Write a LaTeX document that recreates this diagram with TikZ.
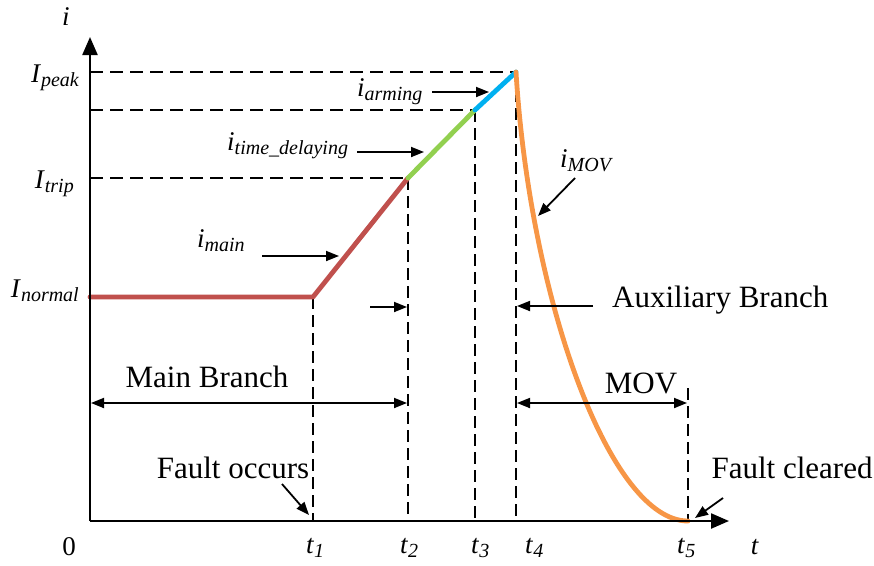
\documentclass[tikz,border=0pt]{standalone}
\usepackage{fontspec}
\setmainfont{Liberation Serif}
\usetikzlibrary{arrows.meta}

\definecolor{mainred}{RGB}{192,80,77}
\definecolor{delaygreen}{RGB}{146,208,80}
\definecolor{armblue}{RGB}{0,176,240}
\definecolor{movorange}{RGB}{247,150,70}

% italic symbol with a lowered italic subscript
\newcommand{\symsub}[2]{\textit{#1}\raisebox{-4.5pt}{\fontsize{20}{20}\selectfont\itshape #2}}

\tikzset{
  axisline/.style={line width=2.3pt, -{Triangle[length=18pt,width=15pt]}},
  guide/.style={line width=2pt, dash pattern=on 13pt off 7pt},
  vguide/.style={line width=1.8pt, dash pattern=on 12pt off 6pt},
  ann/.style={line width=1.8pt, -{Triangle[length=13pt,width=10pt]}},
  dimline/.style={line width=1.8pt, {Triangle[length=13pt,width=10pt]}-{Triangle[length=13pt,width=10pt]}},
  curve/.style={line width=4.8pt, line cap=round},
  symlbl/.style={font=\fontsize{27}{29}\selectfont, inner sep=0pt},
  txtlbl/.style={font=\fontsize{31}{33}\selectfont, inner sep=0pt}
}

\begin{document}
\begin{tikzpicture}[x=1pt,y=-1pt]
\useasboundingbox (0,0) rectangle (874,565);

% key points of the current trace
\coordinate (O)  at (90,521);
\coordinate (Ytip) at (90,37);
\coordinate (Xtip) at (729,521);
\coordinate (P0) at (90,297);
\coordinate (P1) at (313,297);
\coordinate (P2) at (408,178);
\coordinate (P3) at (475,110);
\coordinate (P4) at (516,72);
\coordinate (P5) at (688,521);
\coordinate (A2) at (90,178);
\coordinate (A3) at (90,110);
\coordinate (A4) at (90,72);
\coordinate (F1) at (313,521);
\coordinate (F2) at (408,521);
\coordinate (F3) at (475,521);
\coordinate (F4) at (516,521);
\coordinate (T5) at (688,388);

% guide lines
\draw[guide] (A4) -- (P4);
\draw[guide] (A3) -- (P3);
\draw[guide] (A2) -- (P2);
\draw[vguide] (P1) -- (F1);
\draw[vguide] (P2) -- (F2);
\draw[vguide] (P3) -- (F3);
\draw[vguide] (P4) -- (F4);
\draw[vguide] (T5) -- (P5);

% current trace
\draw[curve, mainred, line join=round] (P0) -- (P1) -- (P2);
\draw[curve, delaygreen] (P2) -- (P3);
\draw[curve, armblue] (P3) -- (P4);
\draw[curve, movorange] (P4) .. controls (530,300) and (610,521) .. (P5);

% axes
\draw[axisline] (O) -- (Ytip);
\draw[axisline] (O) -- (Xtip);

% axis labels
\node[symlbl, anchor=base] (ilbl) at (66,25) {\textit{i}};
\node[symlbl, anchor=base] (tlbl) at (755,554) {\textit{t}};
\node[symlbl, anchor=base] (zero) at (69,555) {0};
\node[symlbl, anchor=base west] (t1) at (306,553) {\symsub{t}{1}};
\node[symlbl, anchor=base west] (t2) at (400,553) {\symsub{t}{2}};
\node[symlbl, anchor=base west] (t3) at (471,553) {\symsub{t}{3}};
\node[symlbl, anchor=base west] (t4) at (525,553) {\symsub{t}{4}};
\node[symlbl, anchor=base west] (t5) at (677,553) {\symsub{t}{5}};

\node[symlbl, anchor=base east] (Ipeak) at (79,82) {\symsub{I}{peak}};
\node[symlbl, anchor=base east] (Itrip) at (74,188) {\symsub{I}{trip}};
\node[symlbl, anchor=base east] (Inormal) at (79,297) {\symsub{I}{normal}};

% branch current labels
\node[symlbl, anchor=base west] (iarm) at (357,96) {\symsub{i}{arming}};
\node[symlbl, anchor=base west] (idel) at (227,150) {\symsub{i}{time\_delaying}};
\node[symlbl, anchor=base west] (imain) at (197,247) {\symsub{i}{main}};
\node[symlbl, anchor=base west] (imov) at (560,167) {\symsub{i}{MOV}};

\coordinate (armS) at (432,92);  \coordinate (armE) at (489,92);
\coordinate (delS) at (357,152); \coordinate (delE) at (424,152);
\coordinate (mainS) at (262,256); \coordinate (mainE) at (339,256);
\coordinate (movS) at (575,178); \coordinate (movE) at (538,216);
\coordinate (trS) at (370,307);  \coordinate (trE) at (407,307);
\draw[ann] (armS) -- (armE);
\draw[ann] (delS) -- (delE);
\draw[ann] (mainS) -- (mainE);
\draw[ann] (movS) -- (movE);
\draw[ann] (trS) -- (trE);

% branch intervals
\node[txtlbl, anchor=base] (mainbr) at (207,387) {Main Branch};
\coordinate (mbL) at (91,403); \coordinate (mbR) at (407,403);
\draw[dimline] (mbL) -- (mbR);

\node[txtlbl, anchor=base west] (auxbr) at (612,307) {Auxiliary Branch};
\coordinate (auxS) at (593,306); \coordinate (auxE) at (517,306);
\draw[ann] (auxS) -- (auxE);

\node[txtlbl, anchor=base] (movlbl) at (641,393) {MOV};
\coordinate (mvL) at (517,403); \coordinate (mvR) at (687,403);
\draw[dimline] (mvL) -- (mvR);

% fault events
\node[txtlbl, anchor=base] (focc) at (233,478) {Fault occurs};
\coordinate (foS) at (282,484); \coordinate (foE) at (309,515);
\draw[ann] (foS) -- (foE);

\node[txtlbl, anchor=base] (fclr) at (792,478) {Fault cleared};
\coordinate (fcS) at (723,498); \coordinate (fcE) at (695,518);
\draw[ann] (fcS) -- (fcE);
\end{tikzpicture}
\end{document}
